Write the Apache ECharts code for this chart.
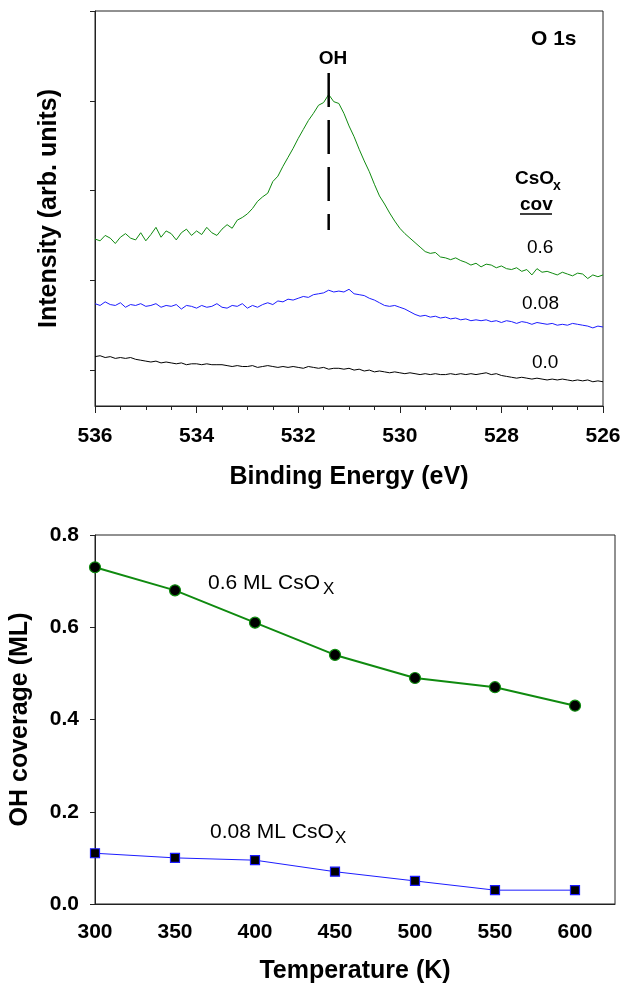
<!DOCTYPE html>
<html>
<head>
<meta charset="utf-8">
<script src="https://cdn.jsdelivr.net/npm/echarts@6.0.0/dist/echarts.min.js"></script>
<style>
html,body{margin:0;padding:0;background:#fff;}
#chart{width:623px;height:985px;}
</style>
</head>
<body>
<div id="chart"></div>
<script>
// ---------- Top panel: O 1s XPS spectra ----------
const energies = [
536.0,535.9,535.8,535.7,535.6,535.5,535.4,535.3,535.2,535.1,
535.0,534.9,534.8,534.7,534.6,534.5,534.4,534.3,534.2,534.1,
534.0,533.9,533.8,533.7,533.6,533.5,533.4,533.3,533.2,533.1,
533.0,532.9,532.8,532.7,532.6,532.5,532.4,532.3,532.2,532.1,
532.0,531.9,531.8,531.7,531.6,531.5,531.4,531.3,531.2,531.1,
531.0,530.9,530.8,530.7,530.6,530.5,530.4,530.3,530.2,530.1,
530.0,529.9,529.8,529.7,529.6,529.5,529.4,529.3,529.2,529.1,
529.0,528.9,528.8,528.7,528.6,528.5,528.4,528.3,528.2,528.1,
528.0,527.9,527.8,527.7,527.6,527.5,527.4,527.3,527.2,527.1,
527.0,526.9,526.8,526.7,526.6,526.5,526.4,526.3,526.2,526.1,
526.0];

const spec06 = [
1.46,1.44,1.50,1.47,1.41,1.48,1.52,1.47,1.45,1.53,
1.44,1.51,1.59,1.48,1.55,1.52,1.45,1.53,1.57,1.50,
1.55,1.51,1.59,1.53,1.50,1.57,1.62,1.58,1.67,1.70,
1.74,1.80,1.88,1.93,1.97,2.10,2.16,2.27,2.37,2.47,
2.58,2.68,2.78,2.86,2.95,2.98,3.07,2.99,2.97,2.86,
2.72,2.60,2.46,2.33,2.21,2.07,1.94,1.85,1.75,1.66,
1.58,1.52,1.47,1.42,1.37,1.32,1.30,1.31,1.26,1.25,
1.23,1.25,1.22,1.20,1.17,1.19,1.15,1.18,1.17,1.14,
1.16,1.13,1.12,1.14,1.10,1.12,1.06,1.13,1.09,1.10,
1.08,1.06,1.09,1.07,1.05,1.08,1.07,1.02,1.06,1.04,
1.06];

const spec008 = [
0.74,0.72,0.76,0.73,0.72,0.75,0.70,0.73,0.72,0.74,
0.71,0.72,0.74,0.70,0.72,0.71,0.73,0.68,0.72,0.71,
0.69,0.72,0.70,0.71,0.74,0.70,0.69,0.72,0.71,0.74,
0.69,0.72,0.70,0.73,0.75,0.73,0.77,0.76,0.79,0.78,
0.80,0.82,0.81,0.84,0.85,0.86,0.89,0.87,0.88,0.87,
0.90,0.85,0.84,0.83,0.80,0.78,0.75,0.72,0.71,0.72,
0.70,0.68,0.65,0.62,0.60,0.61,0.59,0.60,0.58,0.59,
0.57,0.58,0.56,0.57,0.55,0.56,0.55,0.56,0.54,0.55,
0.53,0.55,0.54,0.52,0.54,0.53,0.51,0.53,0.52,0.51,
0.52,0.50,0.51,0.50,0.52,0.51,0.50,0.49,0.47,0.49,
0.48];

const spec00 = [
0.15,0.16,0.14,0.15,0.13,0.14,0.13,0.14,0.12,0.11,
0.10,0.09,0.10,0.08,0.09,0.08,0.07,0.08,0.06,0.07,
0.07,0.06,0.07,0.06,0.06,0.06,0.05,0.04,0.05,0.04,
0.04,0.05,0.03,0.04,0.05,0.04,0.03,0.04,0.03,0.04,
0.03,0.02,0.04,0.03,0.02,0.03,0.01,0.02,0.02,0.01,
0.02,0.00,0.01,-0.01,0.00,-0.02,-0.01,-0.02,-0.03,-0.02,
-0.03,-0.04,-0.03,-0.04,-0.05,-0.04,-0.05,-0.04,-0.05,-0.05,
-0.04,-0.05,-0.04,-0.05,-0.04,-0.05,-0.04,-0.03,-0.05,-0.04,
-0.06,-0.07,-0.08,-0.09,-0.08,-0.09,-0.10,-0.09,-0.10,-0.11,
-0.10,-0.11,-0.10,-0.11,-0.12,-0.11,-0.12,-0.11,-0.13,-0.12,
-0.13];

const ohEnergy = 531.4;
const ohLineRange = [3.31, 1.56];
const intensityTicks = [0, 1, 2, 3, 4];

// ---------- Bottom panel: OH coverage vs temperature ----------
const temps = [300, 350, 400, 450, 500, 550, 600];
const cov06 = [0.73, 0.68, 0.61, 0.54, 0.49, 0.47, 0.43];
const cov008 = [0.11, 0.10, 0.095, 0.07, 0.05, 0.03, 0.03];
const tempTicks = [300, 350, 400, 450, 500, 550, 600];

const FONT = '"Liberation Sans", Arial, Helvetica, sans-serif';
const GREEN = '#0f8a0f';
const BLUE = '#1c1cff';

function pairs(xs, ys) { return xs.map((x, i) => [x, ys[i]]); }

const chart = echarts.init(document.getElementById('chart'), null, {renderer: 'canvas'});

const boldLabel = {fontFamily: FONT, fontSize: 21, fontWeight: 'bold', color: '#000'};
const titleStyle = {fontFamily: FONT, fontSize: 25, fontWeight: 'bold', color: '#000'};
const axisCol = '#222';

const option = {
  animation: false,
  backgroundColor: '#fff',
  grid: [
    {left: 95, top: 11, width: 508, height: 395, show: true, borderColor: axisCol, borderWidth: 1, containLabel: false, outerBoundsMode: 'none'},
    {left: 95, top: 535, width: 520, height: 369, show: true, borderColor: axisCol, borderWidth: 1, containLabel: false, outerBoundsMode: 'none'}
  ],
  xAxis: [
    {
      gridIndex: 0, type: 'value', min: 526, max: 536, interval: 2, inverse: true,
      axisLine: {show: true, onZero: false, lineStyle: {color: axisCol, width: 1}},
      axisTick: {show: true, inside: false, length: 7, lineStyle: {color: axisCol}},
      minorTick: {show: true, splitNumber: 4, length: 4, lineStyle: {color: axisCol}},
      splitLine: {show: false}, minorSplitLine: {show: false},
      axisLabel: Object.assign({margin: 20}, boldLabel),
      name: 'Binding Energy (eV)', nameLocation: 'middle', nameGap: 59, nameTextStyle: titleStyle
    },
    {
      gridIndex: 1, type: 'value', min: 300, max: 625, interval: 50,
      axisLine: {show: true, onZero: false, lineStyle: {color: axisCol, width: 1}},
      axisTick: {show: false},
      splitLine: {show: false},
      axisLabel: Object.assign({margin: 18, customValues: tempTicks}, boldLabel),
      name: 'Temperature (K)', nameLocation: 'middle', nameGap: 55, nameTextStyle: titleStyle
    }
  ],
  yAxis: [
    {
      gridIndex: 0, type: 'value', min: -0.4, max: 4,
      axisLine: {show: true, onZero: false, lineStyle: {color: axisCol, width: 1}},
      axisTick: {show: true, inside: false, length: 5, customValues: intensityTicks, lineStyle: {color: axisCol}},
      axisLabel: {show: false},
      splitLine: {show: false},
      name: 'Intensity (arb. units)', nameLocation: 'middle', nameGap: 33, nameRotate: 90, nameTextStyle: titleStyle
    },
    {
      gridIndex: 1, type: 'value', min: 0, max: 0.8, interval: 0.2,
      axisLine: {show: true, onZero: false, lineStyle: {color: axisCol, width: 1}},
      axisTick: {show: true, inside: false, length: 5, lineStyle: {color: axisCol}},
      axisLabel: Object.assign({margin: 16, formatter: v => v.toFixed(1)}, boldLabel),
      splitLine: {show: false},
      name: 'OH coverage (ML)', nameLocation: 'middle', nameGap: 62, nameRotate: 90, nameTextStyle: titleStyle
    }
  ],
  series: [
    {type: 'line', xAxisIndex: 0, yAxisIndex: 0, data: pairs(energies, spec00), showSymbol: false, symbol: 'none',
     lineStyle: {color: '#000', width: 1}, z: 3},
    {type: 'line', xAxisIndex: 0, yAxisIndex: 0, data: pairs(energies, spec008), showSymbol: false, symbol: 'none',
     lineStyle: {color: BLUE, width: 1}, z: 3},
    {type: 'line', xAxisIndex: 0, yAxisIndex: 0, data: pairs(energies, spec06), showSymbol: false, symbol: 'none',
     lineStyle: {color: GREEN, width: 1}, z: 3},
    {type: 'line', xAxisIndex: 0, yAxisIndex: 0, data: ohLineRange.map(v => [ohEnergy, v]), showSymbol: false, symbol: 'none',
     lineStyle: {color: '#000', width: 2.5, type: [34, 13]}, z: 4},
    {type: 'line', xAxisIndex: 1, yAxisIndex: 1, data: pairs(temps, cov06), symbol: 'circle', symbolSize: 11, showSymbol: true,
     lineStyle: {color: GREEN, width: 2}, itemStyle: {color: '#000', borderColor: GREEN, borderWidth: 1.2}, z: 3},
    {type: 'line', xAxisIndex: 1, yAxisIndex: 1, data: pairs(temps, cov008), symbol: 'rect', symbolSize: 9, showSymbol: true,
     lineStyle: {color: BLUE, width: 1}, itemStyle: {color: '#000', borderColor: BLUE, borderWidth: 1.2}, z: 3}
  ],
  graphic: [
    {type: 'text', x: 531, y: 39, style: {text: 'O 1s', font: 'bold 21px ' + FONT, fill: '#000', align: 'left', verticalAlign: 'middle'}},
    {type: 'text', x: 333, y: 59, style: {text: 'OH', font: 'bold 19px ' + FONT, fill: '#000', align: 'center', verticalAlign: 'middle'}},
    {type: 'text', x: 515, y: 179, style: {text: 'CsO', font: 'bold 19px ' + FONT, fill: '#000', align: 'left', verticalAlign: 'middle'}},
    {type: 'text', x: 553, y: 186, style: {text: 'x', font: 'bold 14px ' + FONT, fill: '#000', align: 'left', verticalAlign: 'middle'}},
    {type: 'text', x: 520, y: 205, style: {text: 'cov', font: 'bold 19px ' + FONT, fill: '#000', align: 'left', verticalAlign: 'middle'}},
    {type: 'line', shape: {x1: 520, y1: 214, x2: 552, y2: 214}, style: {stroke: '#000', lineWidth: 1.5}},
    {type: 'text', x: 527, y: 248, style: {text: '0.6', font: '19px ' + FONT, fill: '#000', align: 'left', verticalAlign: 'middle'}},
    {type: 'text', x: 522, y: 304, style: {text: '0.08', font: '19px ' + FONT, fill: '#000', align: 'left', verticalAlign: 'middle'}},
    {type: 'text', x: 532, y: 363, style: {text: '0.0', font: '19px ' + FONT, fill: '#000', align: 'left', verticalAlign: 'middle'}},
    {type: 'text', x: 208, y: 583, style: {text: '0.6 ML CsO', font: '21px ' + FONT, fill: '#000', align: 'left', verticalAlign: 'middle'}},
    {type: 'text', x: 323, y: 589, style: {text: 'X', font: '17px ' + FONT, fill: '#000', align: 'left', verticalAlign: 'middle'}},
    {type: 'text', x: 210, y: 832, style: {text: '0.08 ML CsO', font: '21px ' + FONT, fill: '#000', align: 'left', verticalAlign: 'middle'}},
    {type: 'text', x: 335, y: 838, style: {text: 'X', font: '17px ' + FONT, fill: '#000', align: 'left', verticalAlign: 'middle'}}
  ]
};
chart.setOption(option);
</script>
</body>
</html>
